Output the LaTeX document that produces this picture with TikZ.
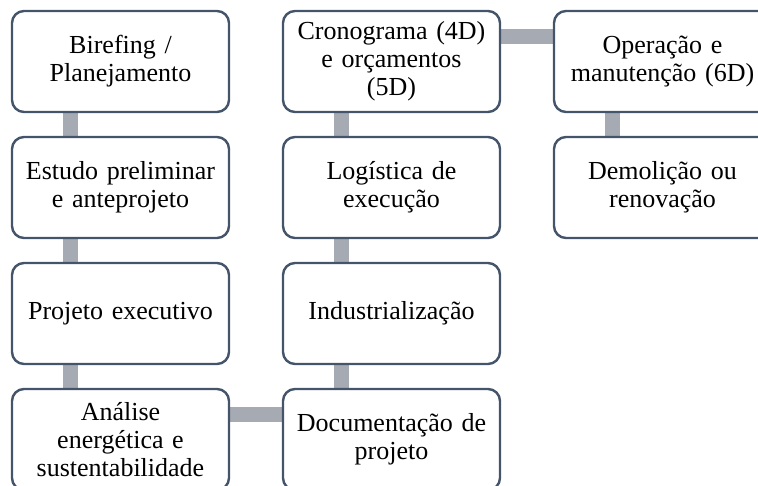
\documentclass[tikz,border=0pt]{standalone}
\usepackage{fontspec}
\setmainfont{Liberation Serif}
\usepackage{tikz}
\usetikzlibrary{positioning, backgrounds}
\definecolor{boxline}{RGB}{68,84,106}
\definecolor{linkgray}{RGB}{166,170,178}
\tikzstyle{stage} = [rectangle, rounded corners=9pt, minimum width=162.75pt, minimum height=75.75pt, text width=158pt, align=center, draw=boxline, line width=1.8pt, fill=white, inner sep=0pt, outer sep=0pt, font=\fontsize{19.5}{21}\selectfont]
\tikzstyle{link} = [line width=11.5pt, draw=linkgray]

\begin{document}
\begin{tikzpicture}[node distance = 18.75pt and 40.5pt]
                        \clip (-90.375pt,46.125pt) rectangle ++(568.5pt,-364.5pt);
                        \node (BP) [stage] {Birefing /\\Planejamento};
                        \node (EP) [stage, below=of BP] {Estudo preliminar\\e anteprojeto};
                        \node (PE) [stage, below=of EP] {Projeto executivo};
                        \node (AE) [stage, below=of PE] {Análise\\energética e\\sustentabilidade};
                        \node (DP) [stage, right=of AE] {Documentação de\\projeto};
                        \node (IN) [stage, above=of DP] {Industrialização};
                        \node (LE) [stage, above=of IN] {Logística de\\execução};
                        \node (CO) [stage, above=of LE] {Cronograma (4D)\\e orçamentos\\(5D)};
                        \node (OM) [stage, right=of CO] {Operação e\\manutenção (6D)};
                        \node (DR) [stage, below=of OM] {Demolição ou\\renovação};
                        \begin{scope}[on background layer]
                        \draw [link] ([xshift=44pt]BP.south west) -- ([xshift=44pt]EP.north west);
                        \draw [link] ([xshift=44pt]EP.south west) -- ([xshift=44pt]PE.north west);
                        \draw [link] ([xshift=44pt]PE.south west) -- ([xshift=44pt]AE.north west);
                        \draw [link] ([yshift=-19pt]AE.north east) -- ([yshift=-19pt]DP.north west);
                        \draw [link] ([xshift=44pt]IN.south west) -- ([xshift=44pt]DP.north west);
                        \draw [link] ([xshift=44pt]LE.south west) -- ([xshift=44pt]IN.north west);
                        \draw [link] ([xshift=44pt]CO.south west) -- ([xshift=44pt]LE.north west);
                        \draw [link] ([yshift=-19pt]CO.north east) -- ([yshift=-19pt]OM.north west);
                        \draw [link] ([xshift=44pt]OM.south west) -- ([xshift=44pt]DR.north west);
                        \end{scope}
                    \end{tikzpicture}
\end{document}
